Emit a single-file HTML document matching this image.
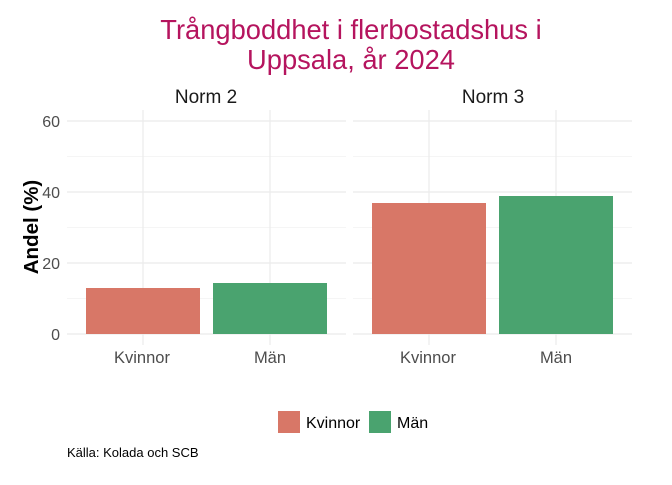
<!DOCTYPE html>
<html><head><meta charset="utf-8"><style>body{margin:0;background:#fff}</style></head><body>
<svg width="672" height="480" xmlns="http://www.w3.org/2000/svg" font-family="Liberation Sans, sans-serif">
<rect width="672" height="480" fill="#fff"/>
<text x="351" y="39" text-anchor="middle" font-size="27.3" fill="#b5145e">Trångboddhet i flerbostadshus i</text>
<text x="351" y="69" text-anchor="middle" font-size="27.3" fill="#b5145e">Uppsala, år 2024</text>
<text x="206" y="103" text-anchor="middle" font-size="19" fill="#1a1a1a">Norm 2</text>
<text x="493" y="103" text-anchor="middle" font-size="19" fill="#1a1a1a">Norm 3</text>
<g stroke="#ebebeb" stroke-width="0.6">
<line x1="67" x2="346" y1="298.5" y2="298.5"/><line x1="67" x2="346" y1="227.5" y2="227.5"/><line x1="67" x2="346" y1="156.5" y2="156.5"/>
<line x1="353" x2="632" y1="298.5" y2="298.5"/><line x1="353" x2="632" y1="227.5" y2="227.5"/><line x1="353" x2="632" y1="156.5" y2="156.5"/>
</g>
<g stroke="#ebebeb" stroke-width="1.2">
<line x1="67" x2="346" y1="334" y2="334"/><line x1="67" x2="346" y1="263" y2="263"/><line x1="67" x2="346" y1="192" y2="192"/><line x1="67" x2="346" y1="121" y2="121"/>
<line x1="353" x2="632" y1="334" y2="334"/><line x1="353" x2="632" y1="263" y2="263"/><line x1="353" x2="632" y1="192" y2="192"/><line x1="353" x2="632" y1="121" y2="121"/>
<line x1="143" x2="143" y1="110" y2="345"/><line x1="270" x2="270" y1="110" y2="345"/>
<line x1="429" x2="429" y1="110" y2="345"/><line x1="556" x2="556" y1="110" y2="345"/>
</g>
<rect x="86" y="288" width="114" height="46" fill="#d87767"/>
<rect x="213" y="283" width="114" height="51" fill="#4aa36f"/>
<rect x="372" y="203" width="114" height="131" fill="#d87767"/>
<rect x="499" y="196" width="114" height="138" fill="#4aa36f"/>
<g font-size="16" fill="#4d4d4d" text-anchor="end">
<text x="60" y="340">0</text><text x="60" y="269">20</text><text x="60" y="198">40</text><text x="60" y="127">60</text>
</g>
<g font-size="16.5" fill="#4d4d4d" text-anchor="middle">
<text x="142" y="363">Kvinnor</text><text x="270" y="363">Män</text>
<text x="428" y="363">Kvinnor</text><text x="556" y="363">Män</text>
</g>
<text transform="translate(38,227) rotate(-90)" text-anchor="middle" font-size="20.5" font-weight="bold" fill="#000">Andel (%)</text>
<rect x="278" y="411" width="22" height="22" fill="#d87767"/>
<text x="306" y="428" font-size="16" fill="#000">Kvinnor</text>
<rect x="369" y="411" width="22" height="22" fill="#4aa36f"/>
<text x="397" y="428" font-size="16" fill="#000">Män</text>
<text x="67" y="457" font-size="13" fill="#000">Källa: Kolada och SCB</text>
</svg>
</body></html>
